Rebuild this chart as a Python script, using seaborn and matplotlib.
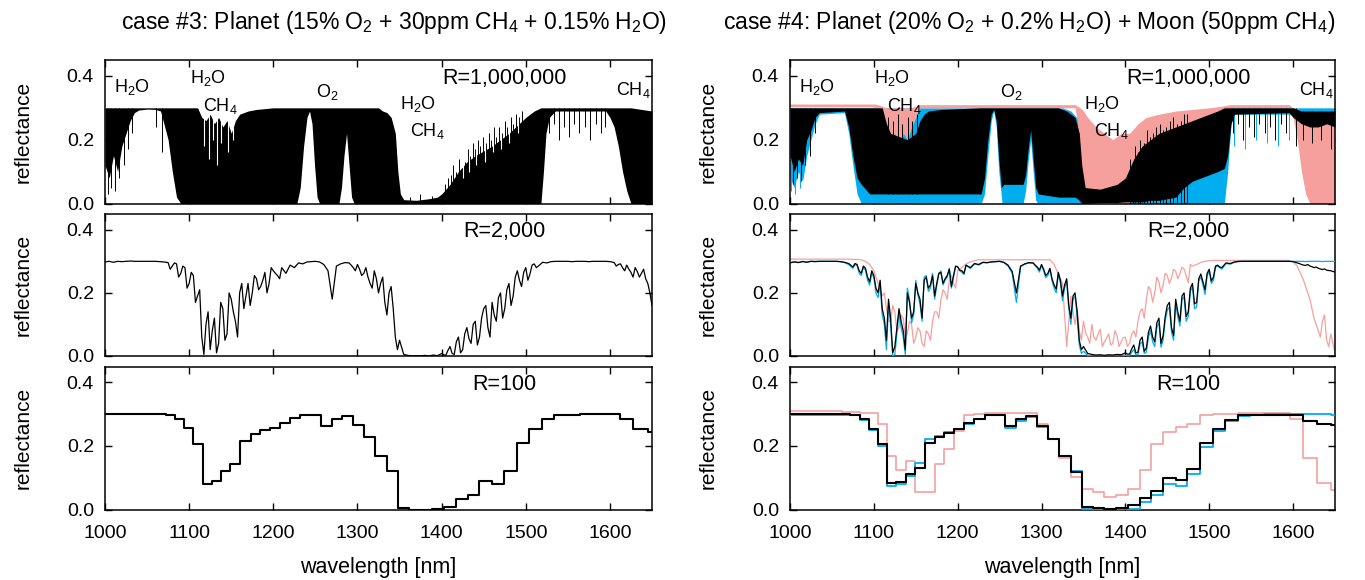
import matplotlib
matplotlib.use("Agg")
import matplotlib.pyplot as plt
import numpy as np
import pandas as pd
import seaborn as sns

# ---------------------------------------------------------------- data
xticks = [1000, 1100, 1200, 1300, 1400, 1500, 1600]
yticks = [0.0, 0.2, 0.4]
titles = ["case #3: Planet (15% O$_\\mathregular{2}$ + 30ppm CH$_\\mathregular{4}$ + 0.15% H$_\\mathregular{2}$O)",
          "case #4: Planet (20% O$_\\mathregular{2}$ + 0.2% H$_\\mathregular{2}$O) + Moon (50ppm CH$_\\mathregular{4}$)"]
res_labels = ["R=1,000,000", "R=2,000", "R=100"]
H2O = "H$_\\mathregular{2}$O"
CH4 = "CH$_\\mathregular{4}$"
O2 = "O$_\\mathregular{2}$"
mol_labels = [(H2O, 1032, 0.365), (H2O, 1122, 0.392), (CH4, 1137, 0.306),
              (O2, 1264, 0.350), (H2O, 1372, 0.312), (CH4, 1383, 0.228),
              (CH4, 1628, 0.355)]

# R = 1,000,000 : line-forest envelopes (wavelength, lower, upper)
c3_hr = [(1000, .12, .30), (1005, .08, .30), (1010, .15, .30), (1015, .10, .30), (1020, .18, .30),
         (1025, .22, .30), (1030, .26, .30), (1035, .285, .30), (1040, .293, .30), (1050, .296, .30),
         (1060, .295, .30), (1066, .29, .30), (1070, .25, .30), (1075, .20, .30), (1080, .10, .30),
         (1085, .02, .30), (1090, 0, .30), (1110, 0, .30), (1115, 0, .27), (1120, 0, .26),
         (1125, 0, .28), (1130, 0, .25), (1135, 0, .27), (1140, 0, .24), (1145, 0, .26),
         (1150, 0, .22), (1155, 0, .26), (1160, 0, .28), (1170, 0, .29), (1180, 0, .295),
         (1200, 0, .30), (1228, 0, .30), (1232, .05, .30), (1236, .18, .30), (1240, .27, .30),
         (1243, .29, .30), (1246, .25, .30), (1249, .12, .30), (1252, .02, .30), (1255, 0, .30),
         (1278, 0, .30), (1281, .05, .30), (1284, .15, .30), (1287, .22, .30), (1290, .12, .30),
         (1293, .02, .30), (1296, 0, .30), (1325, 0, .30), (1330, 0, .29), (1335, 0, .285),
         (1340, 0, .27), (1345, 0, .22), (1348, 0, .10), (1351, 0, .03), (1355, 0, .012),
         (1370, 0, .01), (1385, 0, .015), (1395, 0, .02), (1400, 0, .03), (1410, 0, .06),
         (1420, 0, .10), (1430, 0, .13), (1440, 0, .15), (1460, 0, .18), (1480, 0, .22),
         (1500, 0, .27), (1510, 0, .29), (1518, 0, .30), (1521, .10, .30), (1524, .22, .30),
         (1528, .27, .30), (1535, .29, .30), (1595, .29, .30), (1600, .27, .30), (1605, .24, .30),
         (1610, .18, .30), (1615, .10, .30), (1620, .04, .30), (1625, 0, .30), (1650, 0, .29)]
c3_hr_lines = [(1003, .03, .3), (1007, .05, .3), (1012, .04, .3), (1017, .08, .3), (1022, .12, .3),
               (1027, .17, .3), (1032, .22, .3), (1061, .24, .3), (1068, .16, .3),
               (1528, .22, .3), (1533, .25, .3), (1539, .20, .3), (1546, .24, .3), (1551, .21, .3),
               (1557, .25, .3), (1563, .22, .3), (1570, .24, .3), (1576, .20, .3), (1583, .25, .3),
               (1589, .22, .3), (1594, .24, .3),
               (1362, 0, .02), (1374, 0, .03), (1388, 0, .025),
               (1404, 0, .06), (1407, 0, .08), (1411, 0, .09), (1414, 0, .12), (1417, 0, .10),
               (1421, 0, .14), (1425, 0, .16), (1428, 0, .13), (1431, 0, .17), (1434, 0, .15),
               (1437, 0, .19), (1440, 0, .17), (1443, 0, .20), (1446, 0, .18), (1449, 0, .21),
               (1453, 0, .19), (1456, 0, .22), (1459, 0, .20), (1462, 0, .24), (1465, 0, .21),
               (1468, 0, .24), (1472, 0, .22), (1475, 0, .26), (1478, 0, .24), (1482, 0, .27),
               (1485, 0, .25), (1488, 0, .28), (1492, 0, .27), (1495, 0, .29)]
c3_hr_gaps = [(1118, .18, .31), (1123, .14, .31), (1128, .20, .31), (1133, .12, .31),
              (1138, .19, .31), (1146, .16, .31), (1152, .20, .31),
              (1426, .08, .31), (1433, .10, .31), (1441, .12, .31), (1452, .13, .31),
              (1461, .16, .31), (1470, .17, .31), (1480, .19, .31), (1491, .22, .31)]

c4_hr_blue = [(1000, .08, .30), (1005, .05, .30), (1010, .10, .30), (1015, .07, .30), (1020, .15, .30),
              (1025, .20, .30), (1030, .25, .30), (1035, .28, .30), (1065, .285, .30), (1070, .22, .30),
              (1075, .12, .30), (1080, .03, .30), (1085, 0, .30), (1228, 0, .30), (1232, .03, .30),
              (1236, .15, .30), (1240, .26, .30), (1243, .29, .30), (1246, .24, .30), (1249, .10, .30),
              (1253, 0, .30), (1278, 0, .30), (1281, .04, .30), (1284, .13, .30), (1287, .20, .30),
              (1290, .10, .30), (1293, .01, .30), (1296, 0, .30), (1325, 0, .30), (1335, 0, .29),
              (1345, 0, .26), (1350, 0, .06), (1400, 0, .05), (1450, 0, .18), (1500, 0, .27),
              (1518, 0, .30), (1522, .10, .30), (1526, .25, .30), (1530, .28, .30), (1650, .28, .30)]
c4_hr_pink = [(1000, .303, .312), (1100, .303, .312), (1105, .26, .31), (1110, .20, .305),
              (1115, .15, .30), (1120, .20, .30), (1125, .22, .30), (1130, .18, .30), (1135, .22, .30),
              (1140, .20, .30), (1145, .24, .30), (1150, .27, .305), (1155, .30, .31), (1340, .30, .31),
              (1343, .25, .305), (1346, .10, .30), (1350, .02, .29), (1355, 0, .27), (1365, 0, .24),
              (1375, 0, .22), (1385, 0, .20), (1395, 0, .22), (1405, 0, .22), (1415, .02, .25),
              (1425, .03, .27), (1440, .04, .28), (1460, .05, .29), (1480, .08, .295), (1500, .15, .30),
              (1515, .25, .305), (1525, .30, .31), (1595, .30, .31), (1600, .27, .30), (1605, .20, .295),
              (1610, .10, .29), (1615, .03, .28), (1620, 0, .28), (1635, 0, .27), (1650, 0, .26)]
c4_hr_black = [(1000, .15, .30), (1005, .10, .30), (1010, .14, .30), (1015, .12, .30), (1020, .20, .30),
               (1025, .23, .30), (1030, .27, .30), (1035, .285, .30), (1065, .29, .30), (1070, .24, .30),
               (1075, .15, .30), (1080, .08, .30), (1085, .06, .30), (1095, .03, .30), (1110, .03, .30),
               (1115, .03, .25), (1120, .03, .22), (1130, .03, .21), (1140, .03, .20), (1150, .03, .22),
               (1155, .03, .26), (1160, .03, .28), (1165, .03, .29), (1180, .03, .295), (1228, .03, .30),
               (1232, .08, .30), (1236, .20, .30), (1240, .28, .30), (1243, .295, .30), (1246, .26, .30),
               (1249, .14, .30), (1252, .05, .30), (1255, .06, .30), (1278, .06, .30), (1281, .09, .30),
               (1284, .17, .30), (1287, .23, .30), (1290, .14, .30), (1293, .05, .30), (1296, .03, .30),
               (1320, .02, .30), (1330, .02, .29), (1340, .02, .27), (1345, .01, .22), (1348, 0, .12),
               (1352, 0, .05), (1370, .003, .045), (1390, .003, .06), (1400, .005, .08), (1410, .005, .14),
               (1420, .005, .18), (1430, .01, .20), (1440, .01, .22), (1460, .02, .24), (1470, .05, .25),
               (1480, .07, .26), (1500, .09, .28), (1510, .10, .29), (1518, .11, .30), (1522, .15, .30),
               (1526, .25, .30), (1530, .28, .30), (1595, .285, .30), (1600, .27, .30), (1610, .25, .29),
               (1620, .24, .29), (1630, .24, .29), (1640, .25, .29), (1650, .24, .29)]
c4_hr_black_lines = [(1003, .06, .3), (1008, .08, .3), (1013, .07, .3), (1018, .12, .3), (1024, .15, .3),
                     (1030, .22, .3), (1528, .22, .3), (1534, .25, .3), (1540, .20, .3), (1547, .24, .3),
                     (1553, .21, .3), (1559, .25, .3), (1566, .22, .3), (1572, .24, .3), (1579, .20, .3),
                     (1586, .25, .3), (1592, .22, .3), (1604, .18, .3), (1612, .20, .29), (1622, .19, .29),
                     (1633, .20, .29), (1645, .17, .29),
                     (1117, .03, .27), (1123, .03, .26), (1129, .03, .28), (1134, .03, .25), (1141, .03, .27),
                     (1146, .03, .26), (1151, .03, .28), (1405, 0, .14), (1409, 0, .12), (1412, 0, .18),
                     (1415, 0, .16), (1418, 0, .20), (1422, 0, .19), (1426, 0, .23), (1429, 0, .21),
                     (1433, 0, .22), (1437, 0, .24), (1441, 0, .25), (1445, 0, .23), (1449, 0, .24),
                     (1453, 0, .26), (1457, 0, .27), (1461, 0, .25), (1466, 0, .26), (1470, 0, .28),
                     (1474, 0, .28)]
c4_hr_blue_lines = [(1001, .04, .3), (1006, .03, .3), (1012, .05, .3), (1530, .18, .3), (1543, .17, .3),
                    (1556, .20, .3), (1569, .19, .3), (1582, .18, .3), (1595, .20, .3)]

# R = 2,000 : coarse samples every 5 nm (1000-1650 nm) ...
wl_r2000 = list(range(1000, 1651, 5))
c3_r2000 = [0.298, 0.300, 0.297, 0.300, 0.299, 0.300, 0.301, 0.300, 0.300, 0.300,
            0.300, 0.300, 0.300, 0.299, 0.298, 0.296, 0.285, 0.292, 0.262, 0.280,
            0.230, 0.255, 0.190, 0.060, 0.100, 0.020, 0.120, 0.040, 0.150, 0.070,
            0.180, 0.110, 0.200, 0.150, 0.230, 0.200, 0.245, 0.220, 0.265, 0.230,
            0.270, 0.255, 0.280, 0.262, 0.288, 0.280, 0.295, 0.292, 0.298, 0.299,
            0.300, 0.298, 0.290, 0.270, 0.180, 0.285, 0.292, 0.296, 0.295, 0.280,
            0.290, 0.255, 0.280, 0.230, 0.270, 0.200, 0.250, 0.130, 0.220, 0.060,
            0.050, 0.005, 0.002, 0.000, 0.001, 0.000, 0.002, 0.000, 0.003, 0.001,
            0.008, 0.002, 0.030, 0.005, 0.060, 0.020, 0.090, 0.040, 0.110, 0.060,
            0.150, 0.090, 0.170, 0.110, 0.200, 0.150, 0.230, 0.190, 0.270, 0.220,
            0.280, 0.260, 0.292, 0.285, 0.297, 0.295, 0.299, 0.300, 0.300, 0.300,
            0.300, 0.299, 0.300, 0.300, 0.300, 0.299, 0.300, 0.300, 0.300, 0.300,
            0.299, 0.296, 0.290, 0.280, 0.288, 0.265, 0.280, 0.250, 0.275, 0.230,
            0.160]
c4_r2000_black = [0.295, 0.298, 0.296, 0.299, 0.297, 0.300, 0.299, 0.300, 0.300, 0.300,
                  0.300, 0.300, 0.299, 0.297, 0.293, 0.282, 0.290, 0.262, 0.278, 0.235,
                  0.255, 0.200, 0.150, 0.050, 0.120, 0.030, 0.150, 0.080, 0.200, 0.120,
                  0.230, 0.180, 0.240, 0.215, 0.255, 0.230, 0.265, 0.245, 0.275, 0.255,
                  0.282, 0.270, 0.288, 0.280, 0.293, 0.290, 0.297, 0.296, 0.298, 0.299,
                  0.300, 0.297, 0.288, 0.268, 0.200, 0.285, 0.292, 0.296, 0.295, 0.282,
                  0.290, 0.255, 0.278, 0.225, 0.265, 0.190, 0.245, 0.120, 0.200, 0.050,
                  0.030, 0.008, 0.005, 0.003, 0.004, 0.002, 0.004, 0.003, 0.005, 0.004,
                  0.010, 0.006, 0.035, 0.012, 0.060, 0.025, 0.095, 0.045, 0.120, 0.065,
                  0.160, 0.090, 0.180, 0.110, 0.200, 0.140, 0.230, 0.170, 0.260, 0.210,
                  0.275, 0.250, 0.288, 0.280, 0.295, 0.293, 0.298, 0.300, 0.300, 0.300,
                  0.300, 0.300, 0.300, 0.300, 0.300, 0.300, 0.300, 0.300, 0.300, 0.300,
                  0.299, 0.295, 0.290, 0.287, 0.285, 0.280, 0.278, 0.274, 0.272, 0.270,
                  0.266]
c4_r2000_blue = [0.296, 0.299, 0.297, 0.300, 0.298, 0.300, 0.300, 0.300, 0.300, 0.300,
                 0.300, 0.300, 0.299, 0.296, 0.290, 0.278, 0.287, 0.255, 0.272, 0.225,
                 0.248, 0.185, 0.130, 0.020, 0.100, 0.005, 0.135, 0.060, 0.215, 0.105,
                 0.240, 0.165, 0.250, 0.205, 0.262, 0.222, 0.270, 0.240, 0.278, 0.250,
                 0.284, 0.265, 0.288, 0.277, 0.292, 0.288, 0.296, 0.295, 0.298, 0.299,
                 0.300, 0.296, 0.285, 0.262, 0.170, 0.283, 0.291, 0.295, 0.294, 0.278,
                 0.288, 0.248, 0.274, 0.215, 0.258, 0.175, 0.238, 0.100, 0.190, 0.035,
                 0.015, 0.002, 0.000, 0.000, 0.000, 0.000, 0.000, 0.000, 0.000, 0.000,
                 0.002, 0.000, 0.020, 0.004, 0.045, 0.012, 0.080, 0.030, 0.105, 0.050,
                 0.145, 0.075, 0.165, 0.095, 0.188, 0.125, 0.218, 0.155, 0.250, 0.195,
                 0.268, 0.240, 0.284, 0.275, 0.293, 0.291, 0.297, 0.299, 0.300, 0.300,
                 0.300, 0.300, 0.300, 0.300, 0.300, 0.300, 0.300, 0.300, 0.300, 0.300,
                 0.300, 0.300, 0.300, 0.299, 0.300, 0.300, 0.300, 0.299, 0.300, 0.300,
                 0.300]
c4_r2000_pink = [0.307, 0.307, 0.307, 0.307, 0.307, 0.307, 0.307, 0.307, 0.307, 0.307,
                 0.307, 0.307, 0.307, 0.307, 0.307, 0.306, 0.306, 0.305, 0.300, 0.290,
                 0.270, 0.230, 0.190, 0.150, 0.110, 0.140, 0.090, 0.120, 0.070, 0.100,
                 0.060, 0.080, 0.030, 0.070, 0.110, 0.140, 0.180, 0.200, 0.240, 0.230,
                 0.270, 0.280, 0.292, 0.298, 0.302, 0.305, 0.305, 0.305, 0.305, 0.305,
                 0.305, 0.305, 0.305, 0.305, 0.305, 0.305, 0.305, 0.305, 0.305, 0.305,
                 0.305, 0.305, 0.305, 0.290, 0.260, 0.230, 0.030, 0.190, 0.100, 0.080,
                 0.110, 0.060, 0.100, 0.050, 0.085, 0.045, 0.070, 0.040, 0.065, 0.045,
                 0.060, 0.040, 0.080, 0.110, 0.150, 0.180, 0.210, 0.200, 0.235, 0.225,
                 0.255, 0.248, 0.268, 0.260, 0.275, 0.232, 0.285, 0.290, 0.297, 0.300,
                 0.302, 0.303, 0.303, 0.303, 0.303, 0.303, 0.303, 0.303, 0.303, 0.303,
                 0.303, 0.303, 0.303, 0.303, 0.303, 0.303, 0.303, 0.303, 0.303, 0.303,
                 0.298, 0.285, 0.255, 0.220, 0.180, 0.120, 0.080, 0.110, 0.050, 0.070,
                 0.010]

# ... plus in-between samples inside the noisy absorption bands
wl_fine_planet = np.concatenate([np.arange(1077.5, 1210, 5), np.arange(1292.5, 1350, 5),
                                 np.arange(1402.5, 1515, 5), np.arange(1602.5, 1650, 5)])
c3_r2000_fine = [0.275, 0.295, 0.250, 0.285, 0.215, 0.265, 0.170, 0.210, 0.005, 0.140,
                 0.080, 0.010, 0.170, 0.050, 0.200, 0.140, 0.060, 0.230, 0.190, 0.160,
                 0.255, 0.210, 0.240, 0.200, 0.280, 0.262, 0.245,
                 0.288, 0.270, 0.275, 0.262, 0.250, 0.215, 0.245, 0.230, 0.170, 0.200,
                 0.150, 0.020,
                 0.004, 0.018, 0.008, 0.045, 0.010, 0.070, 0.055, 0.100, 0.035, 0.120,
                 0.160, 0.060, 0.130, 0.185, 0.120, 0.210, 0.160, 0.250, 0.240, 0.265,
                 0.240, 0.288, 0.280,
                 0.298, 0.285, 0.292, 0.270, 0.275, 0.250, 0.268, 0.262, 0.245, 0.200]
c4_r2000_black_fine = [0.293, 0.270, 0.285, 0.250, 0.270, 0.215, 0.240, 0.120, 0.180, 0.010,
                       0.090, 0.110, 0.020, 0.170, 0.140, 0.200, 0.120, 0.250, 0.225, 0.190,
                       0.262, 0.230, 0.255, 0.220, 0.285, 0.272, 0.262,
                       0.288, 0.272, 0.275, 0.262, 0.245, 0.212, 0.240, 0.225, 0.160, 0.190,
                       0.140, 0.020,
                       0.006, 0.022, 0.010, 0.050, 0.015, 0.075, 0.060, 0.105, 0.040, 0.125,
                       0.170, 0.065, 0.140, 0.190, 0.125, 0.215, 0.165, 0.245, 0.235, 0.262,
                       0.238, 0.285, 0.282,
                       0.297, 0.293, 0.288, 0.290, 0.283, 0.282, 0.276, 0.276, 0.271, 0.268]
c4_r2000_blue_fine = [0.290, 0.262, 0.280, 0.240, 0.262, 0.200, 0.228, 0.100, 0.160, 0.000,
                      0.070, 0.090, 0.005, 0.180, 0.130, 0.195, 0.110, 0.255, 0.215, 0.180,
                      0.260, 0.225, 0.250, 0.215, 0.283, 0.270, 0.258,
                      0.285, 0.266, 0.270, 0.255, 0.238, 0.200, 0.232, 0.215, 0.150, 0.180,
                      0.125, 0.008,
                      0.002, 0.012, 0.004, 0.038, 0.008, 0.060, 0.045, 0.090, 0.028, 0.112,
                      0.155, 0.050, 0.125, 0.178, 0.110, 0.205, 0.150, 0.238, 0.225, 0.255,
                      0.230, 0.282, 0.280,
                      0.300, 0.300, 0.300, 0.300, 0.300, 0.300, 0.300, 0.300, 0.300, 0.300]
wl_fine_moon = np.concatenate([np.arange(1112.5, 1200, 5), np.arange(1337.5, 1480, 5),
                               np.arange(1612.5, 1650, 5)])
c4_r2000_pink_fine = [0.200, 0.110, 0.160, 0.080, 0.130, 0.060, 0.110, 0.040, 0.090, 0.040,
                      0.080, 0.050, 0.140, 0.120, 0.210, 0.180, 0.255, 0.215,
                      0.140, 0.150, 0.050, 0.075, 0.040, 0.060, 0.070, 0.030, 0.055, 0.035,
                      0.080, 0.030, 0.058, 0.030, 0.070, 0.060, 0.140, 0.120, 0.220, 0.170,
                      0.250, 0.200, 0.262, 0.230, 0.275, 0.245, 0.282, 0.255, 0.290,
                      0.240, 0.200, 0.150, 0.100, 0.060, 0.130, 0.030, 0.040]

# R = 100 : bin edges (nm) and binned reflectance
r100_edges = [1000, 1010, 1020, 1030, 1041, 1051, 1062, 1072, 1083, 1094, 1105, 1116, 1127,
              1138, 1149, 1161, 1173, 1184, 1196, 1208, 1220, 1232, 1245, 1257, 1270, 1282,
              1295, 1308, 1321, 1335, 1348, 1361, 1375, 1389, 1403, 1417, 1431, 1445, 1460,
              1474, 1489, 1504, 1519, 1534, 1549, 1565, 1580, 1596, 1612, 1628, 1645, 1661]
c3_r100 = [0.300, 0.300, 0.300, 0.300, 0.300, 0.300, 0.300, 0.298, 0.285, 0.256,
           0.207, 0.081, 0.089, 0.120, 0.144, 0.216, 0.237, 0.249, 0.256, 0.273,
           0.287, 0.299, 0.299, 0.264, 0.284, 0.293, 0.267, 0.227, 0.170, 0.122,
           0.005, 0.000, 0.000, 0.003, 0.009, 0.034, 0.047, 0.091, 0.081, 0.122,
           0.211, 0.253, 0.285, 0.296, 0.299, 0.300, 0.300, 0.300, 0.285, 0.252,
           0.243]
c4_r100_black = [0.301, 0.301, 0.300, 0.300, 0.300, 0.300, 0.300, 0.297, 0.284, 0.254,
                 0.206, 0.085, 0.086, 0.111, 0.131, 0.209, 0.227, 0.241, 0.253, 0.272,
                 0.286, 0.299, 0.299, 0.264, 0.284, 0.293, 0.264, 0.222, 0.169, 0.118,
                 0.007, 0.004, 0.002, 0.005, 0.013, 0.036, 0.059, 0.098, 0.092, 0.127,
                 0.210, 0.254, 0.283, 0.296, 0.299, 0.299, 0.299, 0.296, 0.280, 0.269,
                 0.267]
c4_r100_blue = [0.299, 0.299, 0.299, 0.299, 0.299, 0.299, 0.299, 0.296, 0.282, 0.250,
                0.200, 0.075, 0.079, 0.105, 0.147, 0.222, 0.233, 0.245, 0.253, 0.270,
                0.284, 0.298, 0.298, 0.258, 0.280, 0.290, 0.260, 0.222, 0.170, 0.122,
                0.002, 0.000, 0.000, 0.000, 0.003, 0.025, 0.047, 0.082, 0.075, 0.112,
                0.198, 0.248, 0.280, 0.295, 0.299, 0.300, 0.300, 0.300, 0.300, 0.300,
                0.298]
c4_r100_pink = [0.310, 0.310, 0.310, 0.310, 0.310, 0.310, 0.308, 0.306, 0.305, 0.305,
                0.270, 0.168, 0.125, 0.152, 0.056, 0.054, 0.142, 0.192, 0.248, 0.296,
                0.302, 0.305, 0.305, 0.305, 0.305, 0.305, 0.270, 0.222, 0.163, 0.104,
                0.066, 0.056, 0.040, 0.046, 0.065, 0.125, 0.206, 0.245, 0.259, 0.268,
                0.296, 0.301, 0.301, 0.303, 0.303, 0.303, 0.303, 0.284, 0.163, 0.083,
                0.061]

# ---------------------------------------------------------------- style
BLACK = "#000000"
BLUE = "#00aeef"
PINK = "#f6a09d"

sns.set_style("ticks")
plt.rcParams["font.family"] = ["Liberation Sans", "DejaVu Sans"]
plt.rcParams["mathtext.fontset"] = "custom"
plt.rcParams["mathtext.rm"] = "Liberation Sans"
plt.rcParams["mathtext.it"] = "Liberation Sans:italic"
plt.rcParams["mathtext.bf"] = "Liberation Sans:bold"
for key in ["text.color", "axes.labelcolor", "xtick.color", "ytick.color", "axes.edgecolor"]:
    plt.rcParams[key] = "black"

W, H = 1365, 580
fig = plt.figure(figsize=(W / 100, H / 100), dpi=100)

col_x = [105, 790]
col_w = [547, 545]
row_top = [60, 214, 366.5]
row_bot = [203.5, 356, 509.6]


def make_ax(c, r):
    ax = fig.add_axes([col_x[c] / W, 1 - row_bot[r] / H, col_w[c] / W,
                       (row_bot[r] - row_top[r]) / H])
    ycen = 1 - (row_top[r] + row_bot[r]) / 2 / H
    fig.text((col_x[c] - 82) / W, ycen, "reflectance", rotation=90,
             ha="center", va="center", fontsize=15)
    return ax


def finish_ax(ax, r):
    ax.set_xlim(1000, 1650)
    ax.set_ylim(0, 0.45)
    ax.set_xticks(xticks)
    ax.set_yticks(yticks)
    ax.set_yticklabels([f"{v:.1f}" for v in yticks])
    ax.tick_params(direction="in", top=True, right=True, length=5, width=1.0,
                   labelsize=14, colors="black")
    ax.tick_params(axis="x", pad=11)
    ax.tick_params(axis="y", pad=8)
    if r < 2:
        ax.set_xticklabels([])
    ax.set_xlabel("")
    ax.set_ylabel("")
    for s in ax.spines.values():
        s.set_linewidth(1.1)
        s.set_color("black")
        s.set_visible(True)


def envelope(ax, rows, color, z):
    wl, lo, hi = zip(*rows)
    ax.fill_between(wl, lo, hi, color=color, lw=0, zorder=z)


def lines(ax, rows, color, z, lw=0.7):
    wl, lo, hi = zip(*rows)
    ax.vlines(wl, lo, hi, colors=color, lw=lw, zorder=z)


def spectrum(ax, y, wl_fine, y_fine, color, lw, z):
    df = pd.concat([pd.DataFrame({"wl": wl_r2000, "refl": y}),
                    pd.DataFrame({"wl": wl_fine, "refl": y_fine})]).sort_values("wl")
    sns.lineplot(data=df, x="wl", y="refl", ax=ax, color=color, lw=lw,
                 estimator=None, sort=True, legend=False, zorder=z)


def steps(ax, vals, color, lw, z):
    df = pd.DataFrame({"wl": r100_edges, "refl": list(vals) + [vals[-1]]})
    sns.lineplot(data=df, x="wl", y="refl", ax=ax, color=color, lw=lw,
                 drawstyle="steps-post", estimator=None, sort=False,
                 legend=False, zorder=z)


axes = [[make_ax(c, r) for r in range(3)] for c in range(2)]

# ---- case 3
a = axes[0][0]
envelope(a, c3_hr, BLACK, 2)
lines(a, c3_hr_lines, BLACK, 3)
lines(a, c3_hr_gaps, "white", 4, lw=0.8)
spectrum(axes[0][1], c3_r2000, wl_fine_planet, c3_r2000_fine, BLACK, 0.9, 3)
steps(axes[0][2], c3_r100, BLACK, 1.5, 3)

# ---- case 4
a = axes[1][0]
envelope(a, c4_hr_blue, BLUE, 1)
lines(a, c4_hr_blue_lines, BLUE, 1.5)
envelope(a, c4_hr_pink, PINK, 2)
envelope(a, c4_hr_black, BLACK, 3)
lines(a, c4_hr_black_lines, BLACK, 3.5)

spectrum(axes[1][1], c4_r2000_pink, wl_fine_moon, c4_r2000_pink_fine, PINK, 0.9, 2)
spectrum(axes[1][1], c4_r2000_blue, wl_fine_planet, c4_r2000_blue_fine, BLUE, 0.9, 3)
spectrum(axes[1][1], c4_r2000_black, wl_fine_planet, c4_r2000_black_fine, BLACK, 0.9, 4)

steps(axes[1][2], c4_r100_pink, PINK, 1.2, 2)
steps(axes[1][2], c4_r100_blue, BLUE, 1.3, 3)
steps(axes[1][2], c4_r100_black, BLACK, 1.5, 4)

for c in range(2):
    for r in range(3):
        finish_ax(axes[c][r], r)

# ---- annotations
for c in range(2):
    for r in range(3):
        axes[c][r].text(1475, 0.393, res_labels[r], ha="center", va="center",
                        fontsize=15.5, zorder=10)
    for txt, x, y in mol_labels:
        axes[c][0].text(x, y, txt, ha="center", va="center", fontsize=13, zorder=10)
    xc = (col_x[c] + col_w[c] / 2) / W
    fig.text(xc, 1 - 567 / H, "wavelength [nm]", ha="center", va="center", fontsize=15.5)

fig.text(394 / W, 1 - 23 / H, titles[0], ha="center", va="center", fontsize=16.5)
fig.text(1029 / W, 1 - 23 / H, titles[1], ha="center", va="center", fontsize=16.5)

fig.savefig("out.png", dpi=100)
